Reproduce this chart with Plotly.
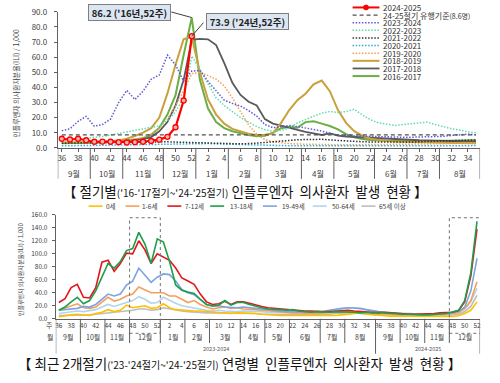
import plotly.graph_objects as go

W, H = 500, 383
FONT = "Noto Sans CJK KR, Noto Sans, sans-serif"
DOT = '1.5px,1.6px'


def px(x):
    return x / W


def py(y):
    return 1 - y / H


# ---------------- data: top panel (season weeks 36..52, 1..35) ----------------
top_weeks = list(range(36, 53)) + list(range(1, 36))
top_months = ['9월', '10월', '11월', '12월', '1월', '2월', '3월', '4월', '5월', '6월', '7월', '8월']
top_month_bounds = [-0.5, 3.5, 7.5, 12.5, 16.5, 20.5, 24.5, 29.5, 33.5, 38.5, 42.5, 46.5, 51.5]

s2024_2025 = [6.0, 5.5, 6.0, 5.0, 4.0, 4.1, 4.0, 3.7, 3.5, 3.7, 4.0, 4.5, 5.4, 7.3, 13.6, 31.3, 73.9]
threshold = [8.6] * 52
s2023_2024 = [11.3, 12.6, 17.5, 20.8, 14.3, 15.4, 19.0, 30.0, 38.0, 32.0, 37.5, 45.4, 48.2, 61.3, 55.0, 44.0,
              50.8, 51.2, 44.0, 37.5, 31.5, 29.4, 27.6, 24.6, 21.0, 15.4, 13.3, 14.0, 14.8, 14.0, 13.3, 12.2,
              11.0, 9.6, 8.4, 8.0, 7.8, 7.6, 7.5, 7.4, 7.3, 7.2, 7.0, 7.0, 7.2, 7.0, 7.2, 7.6, 8.2, 8.8, 9.0, 8.6]
s2022_2023 = [4.7, 5.0, 5.5, 6.0, 7.0, 7.5, 8.5, 9.5, 10.5, 11.5, 13.0, 13.8, 14.5,
              18.0, 24.0, 33.0, 60.7,
              52.0, 42.0, 33.0, 28.0, 24.0, 20.0, 17.0, 14.0, 12.0, 11.0, 11.5, 13.0,
              16.5, 18.6, 20.8, 23.0, 24.0, 23.4, 24.0, 25.5, 21.8, 18.6, 16.5, 15.4, 14.8, 15.4, 16.0,
              16.5, 17.0, 15.4, 14.0, 12.6, 11.8, 10.5, 10.0]
s2021_2022 = [3.0, 3.2, 3.3, 3.5, 3.6, 3.4, 3.5, 3.6, 3.8, 3.9, 4.0, 4.1, 4.0, 4.0, 3.8, 3.6, 3.5, 3.3,
              3.0, 2.8, 2.6, 2.5, 2.6, 2.8, 3.0, 3.5, 4.0, 4.5, 5.0, 5.3, 5.5, 5.8, 5.6, 5.2, 4.8, 4.5,
              4.2, 4.0, 3.9, 3.8, 3.7, 3.6, 3.7, 3.8, 4.0, 4.2, 4.4, 4.6, 4.8, 5.0, 5.1, 5.2]
s2020_2021 = [1.3, 1.4, 1.4, 1.5, 1.6, 1.6, 1.7, 1.8, 1.9, 2.0, 2.1, 2.3, 2.5, 2.6, 2.8, 2.9, 3.0, 2.9,
              2.8, 2.6, 2.4, 2.2, 2.0, 1.9, 1.8, 1.7, 1.6, 1.5, 1.4, 1.4, 1.3, 1.3, 1.2, 1.2, 1.1, 1.1,
              1.0, 1.0, 1.0, 1.0, 1.0, 1.0, 1.0, 1.1, 1.1, 1.2, 1.2, 1.3, 1.3, 1.4, 1.4, 1.5]
s2019_2020 = [3.9, 3.7, 3.8, 3.9, 3.3, 3.6, 4.1, 4.8, 5.4, 5.6, 7.0, 9.3, 13.0, 19.1, 27.8, 37.8, 49.1,
              49.8, 47.8, 45.4, 40.9, 33.0, 24.0, 15.0, 9.0, 5.5, 4.0, 3.2, 2.8, 2.5, 2.3, 2.2, 2.1, 2.0,
              2.0, 2.0, 2.0, 2.1, 2.1, 2.2, 2.2, 2.3, 2.3, 2.4, 2.5, 2.5, 2.6, 2.7, 2.8, 2.9, 3.0, 3.0]
s2018_2019 = [3.5, 3.4, 3.5, 3.6, 3.7, 3.9, 4.3, 4.9, 6.0, 7.8, 10.0, 13.0, 20.0, 36.0, 55.0, 71.9, 73.3,
              50.0, 32.0, 22.0, 16.0, 12.5, 11.0, 9.3, 8.4, 8.6, 9.5, 16.5, 25.0, 31.5, 35.8, 42.0, 44.5,
              37.5, 25.0, 16.5, 11.0, 8.0, 6.0, 5.0, 4.5, 4.2, 4.0, 3.8, 3.6, 3.5, 3.4, 3.3, 3.2, 3.2, 3.0, 3.0]
s2017_2018 = [3.3, 3.3, 3.4, 3.5, 3.6, 3.7, 3.9, 4.2, 4.5, 5.0, 5.8, 7.1, 10.9, 17.0, 28.0, 45.0, 71.5,
              72.1, 71.8, 68.0, 56.0, 43.0, 35.0, 30.5, 28.0, 19.0, 16.0, 14.5, 13.0, 12.0, 10.5, 9.5, 8.5,
              9.5, 8.0, 7.5, 7.2, 7.0, 6.5, 6.0, 5.8, 5.6, 5.4, 5.2, 5.0, 4.9, 4.8, 4.6, 4.5, 4.4, 4.2, 4.0]
s2016_2017 = [3.0, 3.0, 3.1, 3.2, 3.3, 3.5, 3.8, 4.2, 4.8, 5.5, 6.3, 8.5, 13.3, 22.0, 34.8, 61.4, 86.2,
              45.0, 26.0, 17.0, 13.0, 11.0, 9.5, 8.5, 7.7, 8.0, 10.0, 13.0, 14.0, 13.3, 17.0, 17.6, 16.0,
              14.4, 12.2, 9.0, 7.0, 5.8, 5.2, 4.8, 4.6, 4.5, 4.4, 4.3, 4.3, 4.4, 4.5, 4.6, 4.7, 4.8, 5.0, 5.0]

# peak callouts (value, season year, week index)
peak_labels = [(86.2, "'16년,52주", 16), (73.9, "'24년,52주", 16)]

# ---------------- data: bottom panel (2023 w36 .. 2024 w52) ----------------
bot_weeks = list(range(36, 53)) + list(range(1, 36)) + list(range(36, 53))
bot_months = ['9월', '10월', '11월', '12월', '1월', '2월', '3월', '4월', '5월', '6월', '7월', '8월',
              '9월', '10월', '11월', '12월']
bot_month_bounds = [-0.5, 3.5, 7.5, 11.5, 16.5, 20.5, 24.5, 29.5, 33.5, 37.5, 42.5, 46.5, 51.5,
                    55.5, 59.5, 63.5, 68.5]
season_labels = ['2023-2024', '2024-2025']

age_0 = [3, 5, 6, 7, 6, 5, 8, 10, 14, 11, 13, 21, 17, 18, 20, 16, 17, 23, 17, 14, 13, 13, 12, 12, 11, 10,
         10, 9, 8, 9, 9,
         9, 8, 7, 6, 6, 5, 5, 5, 5, 4, 4, 4, 4, 5, 5, 6, 7, 8, 9, 7, 6, 5, 5, 4, 4, 4, 3, 3, 3, 3, 3, 3, 3,
         3.5, 4.5, 8, 13, 26]
age_1_6 = [13, 16, 19, 23, 17, 16, 18, 26, 33, 27, 30, 35, 38, 49, 45, 40, 40, 40, 35, 35, 30, 25, 28, 22,
           18, 15, 17, 18, 16, 17, 15,
           15, 14, 13, 12, 11, 10, 10, 9, 9, 8, 8, 8, 9, 9, 10, 10, 11, 11, 10, 9, 9, 8, 8, 7, 7, 6, 6, 6,
           6, 6, 7, 7, 7,
           8, 9.5, 16, 28, 57]
age_7_12 = [25, 31, 48, 53, 33, 32, 48, 87, 90, 73, 85, 101, 100, 120, 106, 85, 100, 95, 90, 78, 63, 58,
            53, 38, 26, 22, 23, 27, 22, 26, 26,
            24, 21, 19, 17, 16, 15, 14, 14, 13, 12, 12, 11, 11, 11, 12, 13, 13, 12, 11, 10, 9, 9, 10, 9, 8,
            8, 7, 7, 7, 8, 8, 9, 9,
            10, 12.5, 26, 66, 138]
age_13_18 = [13, 18, 26, 33, 23, 28, 43, 63, 85, 78, 88, 105, 108, 133, 115, 85, 123, 118, 88, 52, 44, 41,
             39, 30, 22, 20, 21, 28, 21, 25, 25,
             22, 19, 17, 15, 15, 14, 13, 14, 12, 11, 10, 11, 10, 10, 11, 11, 11, 10, 9, 10, 9, 10, 9, 8,
             8, 7, 7, 6, 6, 6, 7, 7, 8,
             10.5, 13, 28, 71, 150]
age_19_49 = [13, 14, 15, 16, 19, 18, 22, 30, 38, 35, 38, 52, 58, 78, 67, 56, 64, 69, 68, 58, 45, 40, 37,
             30, 22, 19, 20, 18, 17, 17, 18,
             17, 16, 14, 13, 12, 12, 11, 11, 10, 10, 10, 10, 11, 13, 15, 16, 17, 17, 16, 14, 12, 11, 10, 9,
             9, 8, 8, 7, 7, 7, 7, 8, 8,
             9.5, 11, 18, 43, 93]
age_50_64 = [8, 9, 11, 12, 11, 12, 14, 18, 22, 19, 22, 26, 28, 34, 30, 24, 25, 33, 28, 24, 20, 18, 17, 15,
             13, 12, 13, 12, 11, 11, 12,
             12, 11, 11, 10, 10, 9, 9, 9, 9, 9, 9, 9, 10, 12, 14, 16, 17, 17, 15, 13, 11, 10, 9, 8, 8, 7,
             7, 6, 6, 6, 6, 7, 7,
             7.5, 9.5, 15, 26, 47]
age_65 = [5, 5, 6, 6, 6, 6, 7, 8, 9, 9, 10, 12, 13, 15, 15, 13, 14, 17, 15, 13, 12, 11, 10, 10, 9, 9, 9,
          8, 8, 8, 8,
          8, 8, 7, 7, 7, 6, 6, 6, 6, 6, 6, 6, 6, 7, 8, 9, 9, 9, 8, 7, 7, 6, 6, 6, 5, 5, 5, 5, 5, 5, 5, 5,
          6,
          6, 7, 11, 19, 36]

# ---------------- styles ----------------
top_series = [
    ('2016-2017', s2016_2017, '#6AAE45', 'solid', 2.0),
    ('2017-2018', s2017_2018, '#5A5A5A', 'solid', 1.8),
    ('2018-2019', s2018_2019, '#C9A03C', 'solid', 2.0),
    ('2019-2020', s2019_2020, '#F4A05A', DOT, 1.5),
    ('2020-2021', s2020_2021, '#2FAEDC', DOT, 1.5),
    ('2021-2022', s2021_2022, '#333333', DOT, 1.5),
    ('2022-2023', s2022_2023, '#5EDCAA', DOT, 1.5),
    ('2023-2024', s2023_2024, '#5C5CD2', DOT, 1.5),
]
bot_series = [
    ('65세 이상', age_65, '#BDBDBD'),
    ('50-64세', age_50_64, '#B4D3EE'),
    ('0세', age_0, '#FFC000'),
    ('1-6세', age_1_6, '#F4A05A'),
    ('19-49세', age_19_49, '#7EA4DE'),
    ('7-12세', age_7_12, '#E3161E'),
    ('13-18세', age_13_18, '#1E9E4A'),
]

fig = go.Figure()

for name, vals, col, dash, wid in top_series:
    fig.add_trace(go.Scatter(x=list(range(len(vals))), y=vals, mode='lines', name=name,
                             line=dict(color=col, width=wid, dash=dash), xaxis='x', yaxis='y',
                             showlegend=False))
fig.add_trace(go.Scatter(x=list(range(len(threshold))), y=threshold, mode='lines',
                         line=dict(color='#505050', width=1.2, dash='4px,3px'),
                         xaxis='x', yaxis='y', showlegend=False))
fig.add_trace(go.Scatter(x=list(range(len(s2024_2025))), y=s2024_2025, mode='lines+markers',
                         line=dict(color='#FF0000', width=2.2),
                         marker=dict(symbol='circle', size=5, color='#FFB0B0',
                                     line=dict(color='#FF0000', width=1.3)),
                         xaxis='x', yaxis='y', showlegend=False))

for name, vals, col in bot_series:
    fig.add_trace(go.Scatter(x=list(range(len(vals))), y=vals, mode='lines', name=name,
                             line=dict(color=col, width=1.6), xaxis='x2', yaxis='y2',
                             showlegend=False))

shapes = []
annotations = []


def note(x, y, text, size, xref='paper', yref='paper', xanchor='center', color='#404040', **kw):
    annotations.append(dict(x=x, y=y, xref=xref, yref=yref, text=text, showarrow=False,
                            xanchor=xanchor, yanchor='middle',
                            font=dict(family=FONT, size=size, color=color), **kw))


# ---- top axis decorations ----
for b in top_month_bounds:
    shapes.append(dict(type='line', xref='x', yref='paper', x0=b, x1=b, y0=py(146), y1=py(178),
                       line=dict(color='#606060', width=1)))
for k, m in enumerate(top_months):
    c = (top_month_bounds[k] + top_month_bounds[k + 1]) / 2
    note(c, py(172), m, 8, xref='x')

# ---- bottom axis decorations ----
long_bounds = {-0.5, 51.5, 68.5}
for b in bot_month_bounds:
    y1 = 358 if b in long_bounds else 347
    shapes.append(dict(type='line', xref='x2', yref='paper', x0=b, x1=b, y0=py(322), y1=py(y1),
                       line=dict(color='#606060', width=1)))
for k, m in enumerate(bot_months):
    c = (bot_month_bounds[k] + bot_month_bounds[k + 1]) / 2
    note(c, py(341), m, 7, xref='x2')
note((-0.5 + 51.5) / 2, py(353), season_labels[0], 5.5, xref='x2', color='#555555')
note((51.5 + 68.5) / 2, py(353), season_labels[1], 5.5, xref='x2', color='#555555')
note(px(49), py(328), '주', 7)
note(px(49), py(341), '월', 7)

# dotted highlight boxes (weeks 48-52)
for x0, x1 in [(11.5, 16.5), (63.5, 68.7)]:
    shapes.append(dict(type='rect', xref='x2', yref='paper', x0=x0, x1=x1, y0=py(337), y1=py(218),
                       line=dict(color='#707070', width=1, dash='dot')))

# ---- peak callouts: boxed label + leader line to the data point ----
box_pos = [(129, 7), (247.5, 16)]        # label box centres (pixels)
leader_off = [(-22, -6), (13, -15)]      # leader tail offset from the data point (pixels)
for (val, lab, idx), (bx, by), (lx, ly) in zip(peak_labels, box_pos, leader_off):
    annotations.append(dict(x=idx, y=val, xref='x', yref='y', text='', showarrow=True,
                            arrowhead=0, arrowwidth=1, arrowcolor='#404040', ax=lx, ay=ly,
                            standoff=0, startstandoff=0))
    annotations.append(dict(x=px(bx), y=py(by), xref='paper', yref='paper',
                            text=f"<b>&nbsp;{val:.1f} ({lab})&nbsp;</b>", showarrow=False,
                            xanchor='center', yanchor='middle', bgcolor='#DCE6F2',
                            bordercolor='#7F7F7F', borderwidth=1, borderpad=0.5,
                            font=dict(family=FONT, size=9.5, color='#222222')))

# ---- top manual legend ----
top_legend = [
    ('2024-2025', '#FF0000', 'solid', 2.0),
    ("24-25절기 유행기준<span style='font-size:7px'>(8.6명)</span>", '#505050', '4px,3px', 1.2),
    ('2023-2024', '#5C5CD2', DOT, 1.5),
    ('2022-2023', '#5EDCAA', DOT, 1.5),
    ('2021-2022', '#333333', DOT, 1.5),
    ('2020-2021', '#2FAEDC', DOT, 1.5),
    ('2019-2020', '#F4A05A', DOT, 1.5),
    ('2018-2019', '#C9A03C', 'solid', 2.0),
    ('2017-2018', '#5A5A5A', 'solid', 1.8),
    ('2016-2017', '#6AAE45', 'solid', 2.0),
]
for k, (txt, col, dash, wid) in enumerate(top_legend):
    yk = 1.5 + 7.85 * k
    shapes.append(dict(type='line', xref='paper', yref='paper', x0=px(353), x1=px(380), y0=py(yk),
                       y1=py(yk), line=dict(color=col, width=wid, dash=dash)))
    note(px(382), py(yk), txt, 8, xanchor='left', color='#333333')
    if k == 0:
        shapes.append(dict(type='circle', xref='paper', yref='paper', x0=px(364), x1=px(369),
                           y0=py(yk + 2.5), y1=py(yk - 2.5), fillcolor='#FF0000',
                           line=dict(color='#FF0000', width=1)))

# ---- bottom manual legend ----
bot_legend = [
    ('0세', '#FFC000', 88, 103),
    ('1-6세', '#F4A05A', 125, 140),
    ('7-12세', '#E3161E', 167, 183),
    ('13-18세', '#1E9E4A', 210, 228),
    ('19-49세', '#7EA4DE', 263, 280),
    ('50-64세', '#B4D3EE', 313, 330),
    ('65세 이상', '#BDBDBD', 362, 378),
]
for txt, col, x0, xt in bot_legend:
    shapes.append(dict(type='line', xref='paper', yref='paper', x0=px(x0), x1=px(x0 + 14), y0=py(206),
                       y1=py(206), line=dict(color=col, width=1.6)))
    note(px(xt), py(206), txt, 6.5, xanchor='left')

# ---- y axis titles ----
note(px(15), py(79), '인플루엔자 의사환자분율(ILI) / 1,000', 7, textangle=-90)
note(px(19), py(271), '인플루엔자 의사환자분율(ILI) / 1,000', 6, textangle=-90)

# ---- captions ----
SP = '&nbsp; '
note(px(245), py(190),
     "【 절기별<span style='font-size:10px'>('16-'17절기~'24-'25절기)</span> 인플루엔자" + SP +
     "의사환자" + SP + "발생" + SP + "현황 】",
     13.5, color='#111111')
note(px(239), py(368),
     "【 최근 2개절기<span style='font-size:10px'>('23-'24절기~'24-'25절기)</span> 연령별" + SP +
     "인플루엔자" + SP + "의사환자" + SP + "발생" + SP + "현황 】",
     13.5, color='#111111')

top_tickvals = [i for i, w in enumerate(top_weeks) if w % 2 == 0]
top_ticktext = [str(top_weeks[i]) for i in top_tickvals]
bot_tickvals = [j for j, w in enumerate(bot_weeks) if w % 2 == 0]
bot_ticktext = [str(bot_weeks[j]) for j in bot_tickvals]

fig.update_layout(
    width=W, height=H, margin=dict(l=0, r=0, t=0, b=0),
    paper_bgcolor='white', plot_bgcolor='white', showlegend=False,
    font=dict(family=FONT, color='#404040'),
    xaxis=dict(domain=[px(57), px(481)], range=[-0.5, 51.5], tickvals=top_tickvals,
               ticktext=top_ticktext, showgrid=False, zeroline=False, showline=True,
               linecolor='#606060', linewidth=1, ticks='outside', ticklen=3, tickcolor='#606060',
               tickfont=dict(family=FONT, size=8, color='#404040'), anchor='y', tickangle=0),
    yaxis=dict(domain=[py(146), py(6)], range=[0, 90], dtick=10, tickformat='.1f', showgrid=False,
               zeroline=False, showline=True, linecolor='#606060', linewidth=1, ticks='outside',
               ticklen=3, tickcolor='#606060', tickfont=dict(family=FONT, size=8, color='#404040'),
               ticklabelstandoff=5, anchor='x'),
    xaxis2=dict(domain=[px(55), px(481)], range=[-0.5, 68.5], tickvals=bot_tickvals,
                ticktext=bot_ticktext, showgrid=False, zeroline=False, showline=True,
                linecolor='#606060', linewidth=1, ticks='', tickangle=0,
                tickfont=dict(family=FONT, size=6.5, color='#404040'), anchor='y2'),
    yaxis2=dict(domain=[py(322), py(215)], range=[0, 160], dtick=20, tickformat='.1f', showgrid=False,
                zeroline=False, showline=True, linecolor='#606060', linewidth=1, ticks='outside',
                ticklen=3, tickcolor='#606060', tickfont=dict(family=FONT, size=6.5, color='#404040'),
                ticklabelstandoff=3, anchor='x2'),
    shapes=shapes, annotations=annotations,
)

fig.write_html("out.html", config={'displayModeBar': False},
               post_script="document.body.style.margin='0';document.body.style.overflow='hidden';")
